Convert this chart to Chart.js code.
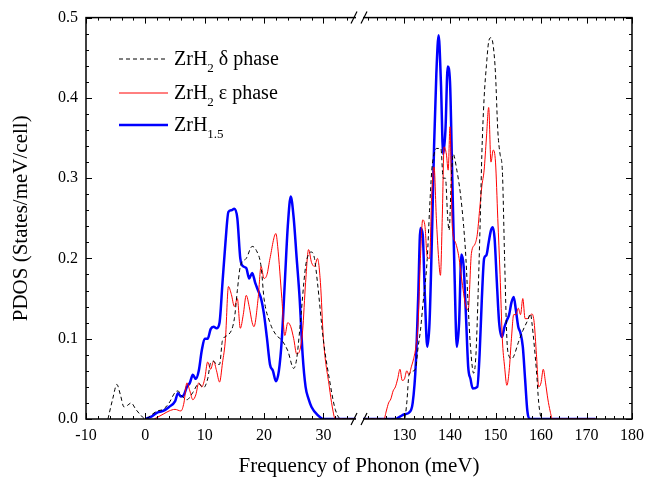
<!DOCTYPE html>
<html>
<head>
<meta charset="utf-8">
<script src="https://cdn.jsdelivr.net/npm/chart.js@4.4.1/dist/chart.umd.min.js"></script>
<style>
  html, body { margin: 0; padding: 0; background: #fff; }
  #wrap { width: 657px; height: 479px; }
</style>
</head>
<body>
<div id="wrap"><canvas id="myChart"></canvas></div>
<script>
// ZrH2 delta phase (black dashed)
const deltaX = [-6.3,-5.5,-4.8,-4.2,-3.6,-3,-2.4,-1.6,-0.8,0,1,2,3,4,5,5.5,6,7,8,9,9.8,10.5,11,11.5,12,12.5,13,14,15,15.5,16,17,18,18.7,19.5,20,21,22,23,24,25,25.5,26,27,27.5,28,28.5,29,30,31,32,33,36,
  120,130,130.5,131,132,132.5,133,133.5,134,135,135.5,136,136.5,137,138,138.5,139,139.5,139.8,140.3,140.7,141.5,142.3,143,143.5,144,144.5,145.2,145.7,146.2,146.7,147,147.5,148,148.5,149,149.5,150,150.5,151,151.5,152,152.5,153,153.5,154,155,156,157,157.7,158,159,159.5,160];
const deltaY = [0,0.025,0.043,0.03,0.015,0.017,0.02,0.012,0.005,0,0.005,0.01,0.012,0.02,0.033,0.035,0.03,0.024,0.033,0.044,0.039,0.05,0.07,0.072,0.068,0.068,0.098,0.105,0.125,0.16,0.19,0.2,0.215,0.21,0.19,0.15,0.12,0.105,0.098,0.085,0.063,0.075,0.11,0.19,0.205,0.208,0.2,0.17,0.098,0.05,0.012,0,0,
  0,0,0.02,0.055,0.06,0.065,0.09,0.11,0.14,0.2,0.26,0.31,0.33,0.337,0.337,0.3,0.3,0.25,0.235,0.3,0.33,0.31,0.28,0.24,0.2,0.14,0.09,0.057,0.08,0.16,0.26,0.33,0.4,0.44,0.47,0.475,0.465,0.43,0.36,0.33,0.31,0.2,0.1,0.078,0.075,0.078,0.095,0.11,0.122,0.131,0.12,0.06,0.02,0];

// ZrH2 epsilon phase (red)
const epsX = [1.5,2,3,4,5,6,6.5,7,7.5,8,8.5,9,9.5,10,10.5,11,11.5,12,12.5,13,13.5,14,14.5,15,15.5,16,16.5,17,17.5,18,18.3,19,19.5,20,20.5,21,22,22.3,23,23.5,24,24.5,25,25.5,26,26.5,27,27.5,28,28.5,29,29.5,30,31,31.5,32,36,
  120,125.5,126,126.5,127,127.5,128,128.5,129,129.5,130,130.5,131,131.5,132,132.5,133,133.5,134,134.5,135,135.5,136,136.5,137,137.5,137.9,138.3,138.7,139.2,139.6,140,140.5,141.2,142,142.5,143.5,144,144.7,145.5,146,146.5,147,147.5,148,148.5,149,149.5,150,150.5,151,151.5,152,152.5,153,153.5,154,154.5,155,155.5,156,156.5,157,157.5,158,158.5,159,159.5,160,160.5,161,161.5,162,162.5,172];
const epsY = [0,0.002,0.006,0.01,0.012,0.01,0.02,0.045,0.035,0.024,0.03,0.045,0.04,0.05,0.071,0.062,0.072,0.06,0.046,0.07,0.1,0.165,0.155,0.14,0.15,0.113,0.13,0.154,0.14,0.12,0.115,0.15,0.19,0.175,0.18,0.2,0.231,0.215,0.15,0.104,0.12,0.115,0.1,0.081,0.085,0.11,0.17,0.211,0.195,0.19,0.2,0.17,0.1,0.04,0.015,0,0,
  0,0,0.01,0.02,0.025,0.035,0.04,0.05,0.062,0.048,0.05,0.06,0.055,0.065,0.075,0.09,0.12,0.2,0.248,0.24,0.202,0.2,0.28,0.314,0.25,0.2,0.179,0.25,0.339,0.33,0.31,0.364,0.24,0.22,0.2,0.177,0.14,0.136,0.206,0.218,0.23,0.26,0.29,0.31,0.35,0.388,0.32,0.335,0.32,0.25,0.18,0.1,0.065,0.042,0.06,0.1,0.13,0.13,0.138,0.13,0.15,0.125,0.125,0.128,0.131,0.12,0.08,0.04,0.045,0.062,0.045,0.025,0.01,0,0];

// ZrH1.5 (blue)
const zrhX = [0,1,2,3,4,5,5.5,6,6.5,7,7.5,8,8.5,9,9.5,10,10.5,11,11.5,12,12.5,13,13.5,14,14.5,15,15.5,16,16.5,17,17.5,18,18.5,19,19.5,20,20.5,21,21.5,22,22.5,23,23.5,24,24.5,25,25.5,26,26.5,27,27.5,28,29,30,36,
  120,128,129,130,131,131.8,132.5,133,133.5,134,134.5,135,135.5,136,136.5,137,137.5,138,138.5,139,139.5,140,140.5,141,141.5,142,142.5,143,143.5,144,144.5,145,146,146.5,147,147.5,148,148.5,149,149.4,149.8,150.3,150.8,151.4,152,152.5,153,153.5,154,154.5,155,155.5,156,156.5,157,157.5,172];
const zrhY = [0,0.003,0.008,0.01,0.015,0.022,0.032,0.028,0.03,0.04,0.045,0.055,0.05,0.06,0.085,0.1,0.1,0.112,0.115,0.113,0.12,0.17,0.22,0.258,0.26,0.262,0.25,0.2,0.19,0.188,0.175,0.182,0.17,0.16,0.15,0.13,0.1,0.068,0.06,0.047,0.06,0.1,0.17,0.24,0.277,0.25,0.2,0.15,0.08,0.04,0.025,0.015,0.005,0,0,
  0,0,0.003,0.006,0.008,0.02,0.07,0.15,0.238,0.23,0.15,0.09,0.12,0.22,0.34,0.43,0.478,0.42,0.33,0.36,0.439,0.42,0.3,0.18,0.09,0.12,0.205,0.19,0.13,0.065,0.05,0.038,0.04,0.08,0.15,0.2,0.204,0.22,0.235,0.239,0.225,0.17,0.12,0.102,0.115,0.123,0.13,0.145,0.152,0.135,0.115,0.107,0.09,0.05,0.01,0,0];

const xMajor = [-10,0,10,20,30,130,140,150,160,170,180];
const yTicks = [0,0.1,0.2,0.3,0.4,0.5];

// broken x axis: -10..36 then 120..180, both halves the same width
const LEFT_END = 36, RIGHT_START = 120, RIGHT_END = 180;
const k = (LEFT_END - (-10)) / (RIGHT_END - RIGHT_START);
function toAxis(x) { return x <= LEFT_END ? x : LEFT_END + (x - RIGHT_START) * k; }
function fromAxis(u) { return u <= LEFT_END ? u : RIGHT_START + (u - LEFT_END) / k; }
function pts(xs, ys) { return xs.map((x, i) => ({ x: toAxis(x), y: ys[i] })); }

const serif = '"Liberation Serif", "Times New Roman", serif';

const axisDeco = {
  id: 'axisDeco',
  afterDraw(chart) {
    const ctx = chart.ctx, a = chart.chartArea;
    const xs = chart.scales.x, ys = chart.scales.y;
    ctx.save();
    ctx.strokeStyle = '#000';
    ctx.lineWidth = 1;
    // y ticks
    for (let i = 0; i <= 25; i++) {
      const v = i * 0.02, p = Math.round(ys.getPixelForValue(v)) + 0.5;
      const len = i % 5 === 0 ? 6 : 3;
      ctx.beginPath();
      ctx.moveTo(a.left, p); ctx.lineTo(a.left + len, p);
      ctx.moveTo(a.right, p); ctx.lineTo(a.right - len, p);
      ctx.stroke();
    }
    // x ticks
    const xt = [];
    for (let x = -10; x <= 34; x += 2) xt.push(x);
    for (let x = 122; x <= 180; x += 2) xt.push(x);
    xt.forEach(x => {
      const p = Math.round(xs.getPixelForValue(toAxis(x))) + 0.5;
      const len = xMajor.includes(x) ? 6 : 3;
      ctx.beginPath();
      ctx.moveTo(p, a.bottom); ctx.lineTo(p, a.bottom - len);
      ctx.moveTo(p, a.top); ctx.lineTo(p, a.top + len);
      ctx.stroke();
    });
    // frame
    ctx.lineWidth = 1.5;
    ctx.strokeRect(a.left, a.top, a.right - a.left, a.bottom - a.top);
    // break marks
    const bx = xs.getPixelForValue(LEFT_END);
    [a.top, a.bottom].forEach(y => {
      ctx.fillStyle = '#fff';
      ctx.fillRect(bx - 3, y - 2, 7, 4);
      ctx.lineWidth = 1.2;
      ctx.beginPath();
      ctx.moveTo(bx - 8, y + 6); ctx.lineTo(bx - 2, y - 6);
      ctx.moveTo(bx + 2, y + 6); ctx.lineTo(bx + 8, y - 6);
      ctx.stroke();
    });
    // legend
    const items = [
      { y: 59, color: '#000', w: 1, dash: [4, 3], base: 'ZrH', sub: '2', rest: ' \u03b4 phase' },
      { y: 93, color: '#ff0000', w: 1, dash: [], base: 'ZrH', sub: '2', rest: ' \u03b5 phase' },
      { y: 125, color: '#0000ff', w: 2.5, dash: [], base: 'ZrH', sub: '1.5', rest: '' }
    ];
    items.forEach(it => {
      ctx.strokeStyle = it.color; ctx.lineWidth = it.w; ctx.setLineDash(it.dash);
      ctx.beginPath(); ctx.moveTo(119, it.y); ctx.lineTo(168, it.y); ctx.stroke();
      ctx.setLineDash([]);
      ctx.fillStyle = '#000';
      ctx.textBaseline = 'alphabetic';
      ctx.font = '20px ' + serif;
      let tx = 174;
      ctx.fillText(it.base, tx, it.y + 6);
      tx += ctx.measureText(it.base).width;
      ctx.font = '13px ' + serif;
      ctx.fillText(it.sub, tx, it.y + 13);
      tx += ctx.measureText(it.sub).width;
      ctx.font = '20px ' + serif;
      ctx.fillText(it.rest, tx, it.y + 6);
    });
    ctx.restore();
  }
};

new Chart(document.getElementById('myChart'), {
  type: 'line',
  data: {
    datasets: [
      { label: 'ZrH2 \u03b4 phase', data: pts(deltaX, deltaY), borderColor: '#000', borderWidth: 1, borderDash: [4, 3] },
      { label: 'ZrH2 \u03b5 phase', data: pts(epsX, epsY), borderColor: '#ff0000', borderWidth: 1 },
      { label: 'ZrH1.5', data: pts(zrhX, zrhY), borderColor: '#0000ff', borderWidth: 2.5 }
    ]
  },
  options: {
    responsive: true,
    maintainAspectRatio: false,
    animation: false,
    parsing: false,
    elements: {
      point: { radius: 0 },
      line: { cubicInterpolationMode: 'monotone', fill: false }
    },
    layout: { padding: { left: 0, right: 25, top: 17, bottom: 0 } },
    plugins: { legend: { display: false }, tooltip: { enabled: false } },
    scales: {
      x: {
        type: 'linear',
        min: toAxis(-10),
        max: toAxis(RIGHT_END),
        grid: { display: false, drawTicks: false },
        border: { display: false },
        afterBuildTicks: s => { s.ticks = xMajor.map(v => ({ value: toAxis(v) })); },
        afterFit: s => { s.height = 60; },
        ticks: {
          autoSkip: false,
          maxRotation: 0,
          padding: 7,
          color: '#000',
          font: { family: serif, size: 16 },
          callback: v => String(Math.round(fromAxis(v)))
        },
        title: {
          display: true,
          text: 'Frequency of Phonon (meV)',
          color: '#000',
          font: { family: serif, size: 21 },
          padding: { top: 0, bottom: 0 }
        }
      },
      y: {
        min: 0,
        max: 0.5,
        grid: { display: false, drawTicks: false },
        border: { display: false },
        afterBuildTicks: s => { s.ticks = yTicks.map(v => ({ value: v })); },
        afterFit: s => { s.width = 86; },
        ticks: {
          padding: 8,
          color: '#000',
          font: { family: serif, size: 16 },
          callback: v => Number(v).toFixed(1)
        },
        title: {
          display: true,
          text: 'PDOS (States/meV/cell)',
          color: '#000',
          font: { family: serif, size: 21 },
          padding: { top: 9, bottom: 0 }
        }
      }
    }
  },
  plugins: [axisDeco]
});
</script>
</body>
</html>
